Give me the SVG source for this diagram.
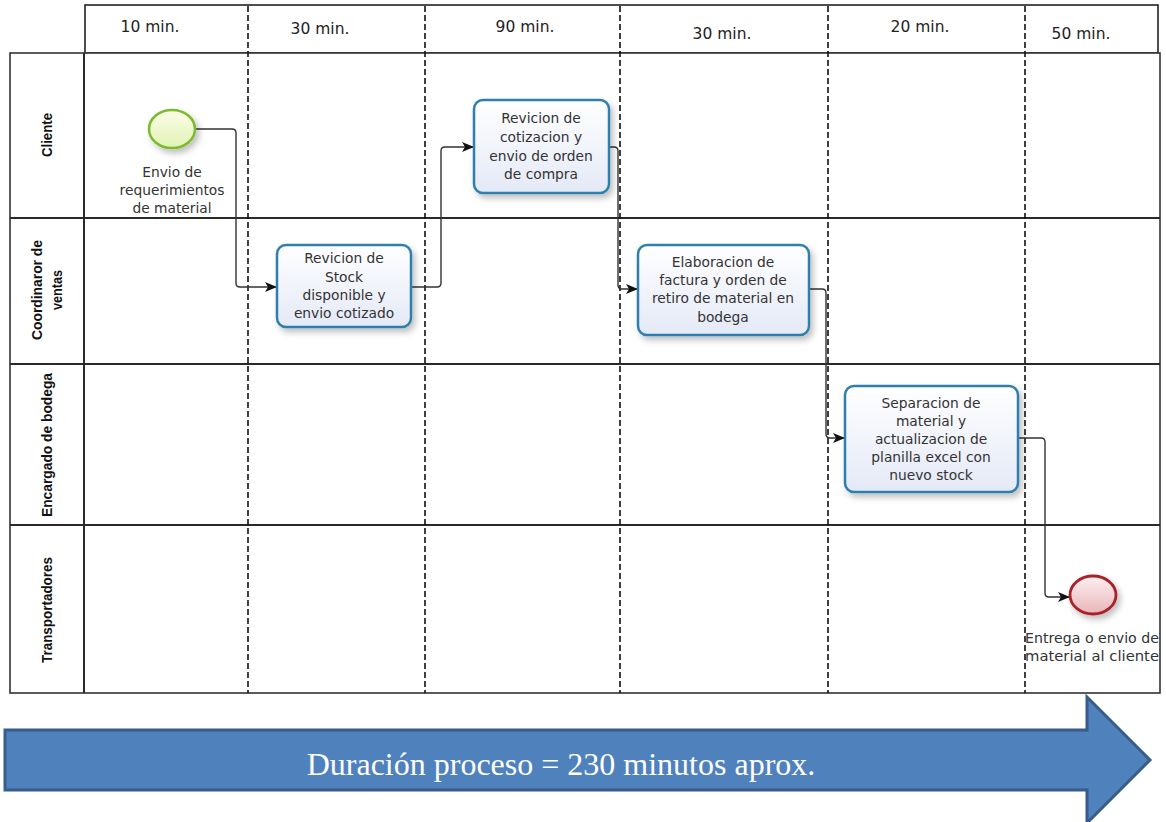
<svg xmlns="http://www.w3.org/2000/svg" width="1166" height="822" viewBox="0 0 1166 822">
<style>
.hdr{font-family:"DejaVu Sans",Verdana,sans-serif;font-size:15.5px;fill:#222;text-anchor:middle}
.task text,.lbl{font-family:"DejaVu Sans",Verdana,sans-serif;font-size:13.8px;fill:#333;text-anchor:middle}
.lane{font-family:"Liberation Sans",Arial,sans-serif;font-weight:bold;font-size:14px;fill:#111;text-anchor:middle}
.sep{stroke:#2a2a2a;stroke-width:2;fill:none}
.dash{stroke:#111;stroke-width:1.6;stroke-dasharray:6 3;fill:none}
.conn{stroke:#333;stroke-width:1.4;fill:none;marker-end:url(#arr)}
.box{fill:url(#tg);stroke:#2f7fae;stroke-width:2.5;filter:url(#sh)}
</style>
<defs>
<linearGradient id="tg" x1="0" y1="0" x2="0" y2="1"><stop offset="0" stop-color="#ffffff"/><stop offset="1" stop-color="#e4e9f7"/></linearGradient>
<linearGradient id="sg" x1="0" y1="0" x2="0" y2="1"><stop offset="0" stop-color="#fbfde9"/><stop offset="1" stop-color="#e2f2b4"/></linearGradient>
<linearGradient id="eg" x1="0" y1="0" x2="0" y2="1"><stop offset="0" stop-color="#fdf0f0"/><stop offset="1" stop-color="#e9b5b9"/></linearGradient>
<filter id="sh" x="-20%" y="-20%" width="140%" height="150%"><feDropShadow dx="3" dy="4" stdDeviation="3" flood-color="#000" flood-opacity="0.25"/></filter>
<marker id="arr" viewBox="0 0 12 10" refX="12" refY="5" markerWidth="12" markerHeight="10" markerUnits="userSpaceOnUse" orient="auto"><path d="M0,0 L12,5 L0,10 L3,5 Z" fill="#111"/></marker>
</defs>

<g id="pool">
<rect x="85" y="5" width="1073" height="48" fill="#fff" stroke="#222" stroke-width="1.6"/>
<rect x="10" y="53" width="1150" height="640" fill="#fff" stroke="#333" stroke-width="1.6"/>
<line class="sep" x1="84" y1="53" x2="84" y2="693"/>
<line class="sep" x1="10" y1="218" x2="1160" y2="218"/>
<line class="sep" x1="10" y1="364" x2="1160" y2="364"/>
<line class="sep" x1="10" y1="525" x2="1160" y2="525"/>
<line class="dash" x1="248" y1="6" x2="248" y2="693"/>
<line class="dash" x1="425" y1="6" x2="425" y2="693"/>
<line class="dash" x1="620" y1="6" x2="620" y2="693"/>
<line class="dash" x1="828" y1="6" x2="828" y2="693"/>
<line class="dash" x1="1025" y1="6" x2="1025" y2="693"/>
<text class="hdr" x="150" y="32">10 min.</text>
<text class="hdr" x="320" y="34">30 min.</text>
<text class="hdr" x="525" y="32">90 min.</text>
<text class="hdr" x="722" y="39">30 min.</text>
<text class="hdr" x="920" y="32">20 min.</text>
<text class="hdr" x="1081" y="39">50 min.</text>
<text class="lane" transform="translate(52,135) rotate(-90)" textLength="44" lengthAdjust="spacingAndGlyphs">Cliente</text>
<text class="lane" transform="translate(42,290) rotate(-90)" textLength="100" lengthAdjust="spacingAndGlyphs">Coordinaror de</text>
<text class="lane" transform="translate(62,290) rotate(-90)" textLength="40" lengthAdjust="spacingAndGlyphs">ventas</text>
<text class="lane" transform="translate(52,445) rotate(-90)" textLength="144" lengthAdjust="spacingAndGlyphs">Encargado de bodega</text>
<text class="lane" transform="translate(52,610) rotate(-90)" textLength="106" lengthAdjust="spacingAndGlyphs">Transportadores</text>
</g>

<g id="connectors">
<path class="conn" d="M195,129 H232 Q236,129 236,133 V283 Q236,287 240,287 H277"/>
<path class="conn" d="M411,287 H437 Q441,287 441,283 V151 Q441,147 445,147 H474"/>
<path class="conn" d="M609,147 H614 Q618,147 618,151 V285 Q618,289 622,289 H638"/>
<path class="conn" d="M809,289 H822 Q826,289 826,293 V434 Q826,438 830,438 H845"/>
<path class="conn" d="M1018,438 H1041 Q1045,438 1045,442 V593 Q1045,597 1049,597 H1070"/>
</g>

<g id="start">
<ellipse cx="172" cy="129" rx="23" ry="19" fill="url(#sg)" stroke="#7cbb2f" stroke-width="2.5" filter="url(#sh)"/>
<text class="lbl" x="172" y="177">Envio de</text>
<text class="lbl" x="172" y="195">requerimientos</text>
<text class="lbl" x="172" y="213">de material</text>
</g>

<g id="task1" class="task">
<rect class="box" x="277" y="245" width="134" height="82" rx="9"/>
<text x="344" y="263">Revicion de</text>
<text x="344" y="282">Stock</text>
<text x="344" y="300">disponible y</text>
<text x="344" y="318">envio cotizado</text>
</g>

<g id="task2" class="task">
<rect class="box" x="474" y="100" width="135" height="93" rx="9"/>
<text x="541" y="123">Revicion de</text>
<text x="541" y="142">cotizacion y</text>
<text x="541" y="161">envio de orden</text>
<text x="541" y="179">de compra</text>
</g>

<g id="task3" class="task">
<rect class="box" x="638" y="245" width="171" height="90" rx="9"/>
<text x="723" y="267">Elaboracion de</text>
<text x="723" y="285">factura y orden de</text>
<text x="723" y="303" textLength="142" lengthAdjust="spacingAndGlyphs">retiro de material en</text>
<text x="723" y="322">bodega</text>
</g>

<g id="task4" class="task">
<rect class="box" x="845" y="386" width="173" height="106" rx="9"/>
<text x="931" y="408">Separacion de</text>
<text x="931" y="426">material y</text>
<text x="931" y="444">actualizacion de</text>
<text x="931" y="462">planilla excel con</text>
<text x="931" y="480">nuevo stock</text>
</g>

<g id="end">
<ellipse cx="1093" cy="595" rx="23" ry="19" fill="url(#eg)" stroke="#a8232b" stroke-width="2.8" filter="url(#sh)"/>
<text class="lbl" x="1092" y="643" textLength="134" lengthAdjust="spacingAndGlyphs">Entrega o envio de</text>
<text class="lbl" x="1092" y="661" textLength="134" lengthAdjust="spacingAndGlyphs">material al cliente</text>
</g>

<g id="duration">
<polygon points="5,730 1087,730 1087,697 1150,760 1087,823 1087,790 5,790" fill="#4f81bd" stroke="#385d8a" stroke-width="3"/>
<text x="561" y="775" font-family="Liberation Serif,'Times New Roman',serif" font-size="32" fill="#fff" text-anchor="middle">Duración proceso = 230 minutos aprox.</text>
</g>
</svg>
